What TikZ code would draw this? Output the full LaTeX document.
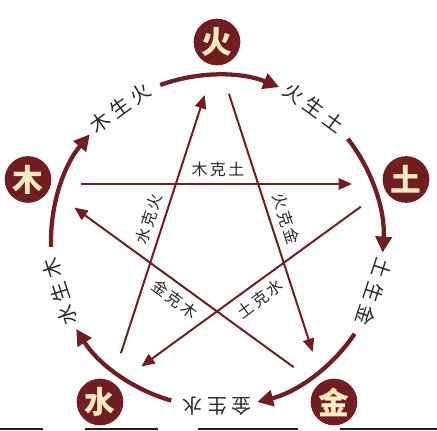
\documentclass[tikz,border=0pt]{standalone}
\usepackage{fontspec}
\newfontfamily\cjk{Noto Sans CJK SC}
\usetikzlibrary{arrows.meta}

\definecolor{maroon}{RGB}{112,30,34}
\definecolor{cream}{RGB}{250,236,192}
\definecolor{labelgray}{RGB}{45,40,40}
\definecolor{stripgray}{RGB}{30,30,30}

\newcommand\shenggap{\hspace{3.5pt}}
\newcommand\kegap{\hspace{1.7pt}}

\tikzset{every picture/.style={line width=0.75pt}}
\tikzset{
  element/.style={circle, fill=maroon, minimum size=35pt, inner sep=0pt, text=cream, font=\cjk\bfseries\fontsize{23}{23}\selectfont},
  sheng/.style={draw=maroon, line width=3.2pt, -{Triangle[length=12pt,width=12pt]}},
  ke/.style={draw=maroon, line width=1.5pt, -{Triangle[length=10pt,width=8.5pt]}, shorten <=29pt, shorten >=30pt},
  shenglabel/.style={text=labelgray, inner sep=0pt, font=\cjk\fontsize{15}{15}\selectfont},
  kelabel/.style={text=labelgray, inner sep=0pt, font=\cjk\fontsize{12}{12}\selectfont},
}

\begin{document}
\begin{tikzpicture}[x=0.75pt,y=0.75pt,yscale=-1,xscale=1]
	\fill[white] (0,0) rectangle (437,430);
	\useasboundingbox (0,0) rectangle (437,430);

	%centre of the wheel
	\coordinate (O) at (217,241);

	%Elements
	\node[element] (huo) at (217,42) {火};
	\node[element] (tu) at (406,179.5) {土};
	\node[element] (jin) at (334,402) {金};
	\node[element] (shui) at (100,402) {水};
	\node[element] (mu) at (28,179.5) {木};

	%Star points
	\coordinate (v-huo) at (217,57);
	\coordinate (v-tu) at (392,184);
	\coordinate (v-jin) at (325,390);
	\coordinate (v-shui) at (109,390);
	\coordinate (v-mu) at (42,184);

	%Ke lines
	\draw[ke] (v-mu) -- (v-tu);
	\draw[ke] (v-huo) -- (v-jin);
	\draw[ke] (v-tu) -- (v-shui);
	\draw[ke] (v-jin) -- (v-mu);
	\draw[ke] (v-shui) -- (v-huo);

	%Sheng arcs
	\draw[sheng] ([shift={(-110:166)}]O) arc[start angle=-110, end angle=-68, radius=166];
	\draw[sheng] ([shift={(-38:166)}]O) arc[start angle=-38, end angle=4, radius=166];
	\draw[sheng] ([shift={(34:166)}]O) arc[start angle=34, end angle=76, radius=166];
	\draw[sheng] ([shift={(106:166)}]O) arc[start angle=106, end angle=148, radius=166];
	\draw[sheng] ([shift={(178:166)}]O) arc[start angle=178, end angle=220, radius=166];

	% Sheng labels
	\node[shenglabel, rotate=36] (mu-huo) at (120,107.5) {木\shenggap 生\shenggap 火};
	\node[shenglabel, rotate=-36] (huo-tu) at (314,107.5) {火\shenggap 生\shenggap 土};
	\node[shenglabel, rotate=-108] (tu-jin) at (374,292) {土\shenggap 生\shenggap 金};
	\node[shenglabel, rotate=180] (jin-shui) at (217,406) {金\shenggap 生\shenggap 水};
	\node[shenglabel, rotate=108] (shui-mu) at (60,292) {水\shenggap 生\shenggap 木};

	% Ke labels
	\node[kelabel] (ke-mu) at (218,169) {木\kegap 克\kegap 土};
	\node[kelabel, rotate=-72] (ke-huo) at (286,219) {火\kegap 克\kegap 金};
	\node[kelabel, rotate=36] (ke-tu) at (260,299) {土\kegap 克\kegap 水};
	\node[kelabel, rotate=-36] (ke-jin) at (175,299) {金\kegap 克\kegap 木};
	\node[kelabel, rotate=72] (ke-shui) at (149,219) {水\kegap 克\kegap 火};

	%Bottom edge
	\fill[stripgray] (0,428) rectangle (43,430);
	\fill[stripgray] (85,428) rectangle (158,430);
	\fill[stripgray] (198,428) rectangle (298,430);
	\fill[stripgray] (340,428) rectangle (437,430);
\end{tikzpicture}
\end{document}
